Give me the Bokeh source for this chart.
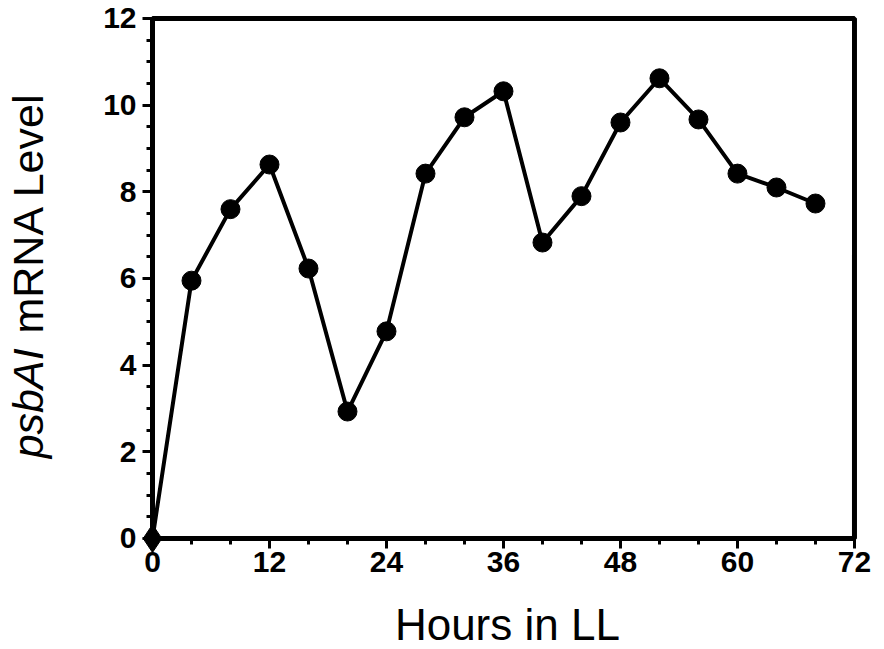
from bokeh.plotting import figure
from bokeh.models import FixedTicker, Label, Range1d, BoxAnnotation
from bokeh.embed import file_html
from bokeh.resources import INLINE

# psbAI transcript level over time in continuous light
hours = [0, 4, 8, 12, 16, 20, 24, 28, 32, 36, 40, 44, 48, 52, 56, 60, 64, 68]
level = [0.0, 5.95, 7.6, 8.63, 6.23, 2.93, 4.78, 8.42, 9.72, 10.32,
         6.83, 7.9, 9.6, 10.62, 9.67, 8.42, 8.1, 7.73]

x_major = [0, 12, 24, 36, 48, 60, 72]
x_minor = [4, 8, 16, 20, 28, 32, 40, 44, 52, 56, 64, 68]
y_major = [0, 2, 4, 6, 8, 10, 12]
y_minor = [0.5, 1, 1.5, 2.5, 3, 3.5, 4.5, 5, 5.5, 6.5, 7, 7.5,
           8.5, 9, 9.5, 10.5, 11, 11.5]

FONT = "Liberation Sans"

# The frame fills the whole canvas; the axes sit at x=0 / y=0 so that the
# titles and the origin marker are drawn without being clipped.
p = figure(width=884, height=649, output_backend="svg", toolbar_location=None,
           x_range=Range1d(-15.59, 75.08), y_range=Range1d(-2.5615, 12.415),
           min_border=0)

p.background_fill_color = "white"
p.border_fill_color = "white"
p.outline_line_color = None
p.xgrid.visible = False
p.ygrid.visible = False

p.xaxis.ticker = FixedTicker(ticks=x_major, minor_ticks=x_minor)
p.yaxis.ticker = FixedTicker(ticks=y_major, minor_ticks=y_minor)
p.xaxis.fixed_location = 0
p.yaxis.fixed_location = 0
p.xaxis.bounds = (0, 72)
p.yaxis.bounds = (0, 12)

for ax in (p.xaxis, p.yaxis):
    ax.axis_line_width = 5
    ax.axis_line_color = "black"
    ax.major_tick_in = 0
    ax.major_tick_out = 10
    ax.minor_tick_in = 0
    ax.minor_tick_out = 6
    ax.major_tick_line_width = 3
    ax.minor_tick_line_width = 3
    ax.major_tick_line_color = "black"
    ax.minor_tick_line_color = "black"
    ax.major_label_text_font = FONT
    ax.major_label_text_font_style = "bold"
    ax.major_label_text_font_size = "30px"
    ax.major_label_text_color = "black"

p.xaxis.major_label_standoff = 4
p.yaxis.major_label_standoff = 6

# closing box of the plotting area
p.add_layout(BoxAnnotation(left=0, right=72, bottom=0, top=12,
                           fill_alpha=0, line_color="black", line_alpha=1,
                           line_width=5))

p.line(hours, level, line_color="black", line_width=4)
p.scatter(hours[:1], level[:1], marker="diamond", size=28,
          fill_color="black", line_color="black")
p.scatter(hours[1:], level[1:], size=19, fill_color="black", line_color="black")

# axis titles
p.add_layout(Label(x=36.4, y=-1.99, text="Hours in LL", text_align="center",
                   text_baseline="alphabetic", text_font=FONT,
                   text_font_size="44px", text_color="black"))

p.add_layout(Label(x=-12.76, y=1.85, text="psbAI", angle=1.5708,
                   text_align="left", text_baseline="alphabetic",
                   text_font=FONT, text_font_style="italic",
                   text_font_size="43px", text_color="black"))
p.add_layout(Label(x=-12.76, y=4.73, text="mRNA Level", angle=1.5708,
                   text_align="left", text_baseline="alphabetic",
                   text_font=FONT, text_font_size="43px", text_color="black"))

open("out.html", "w").write(file_html(p, INLINE))
